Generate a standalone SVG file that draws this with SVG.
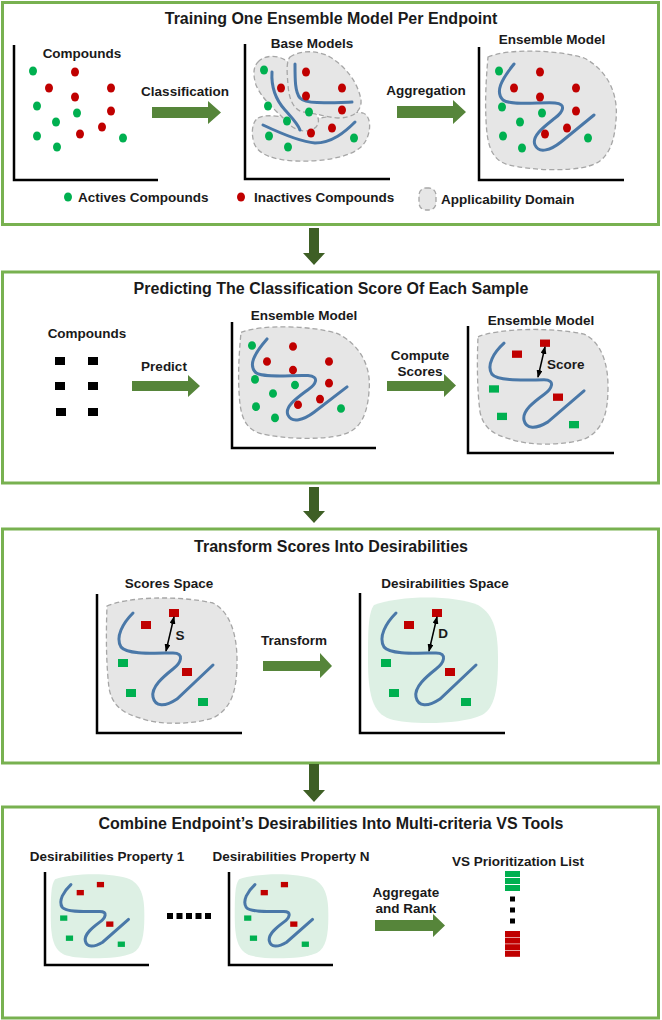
<svg xmlns="http://www.w3.org/2000/svg" width="662" height="1020" viewBox="0 0 662 1020">
<defs>
<style>
.panel{fill:#fff;stroke:#78b150;stroke-width:3}
.title{font-family:"Liberation Sans",Arial,sans-serif;font-weight:bold;font-size:16px;fill:#1a1a1a;text-anchor:middle}
.lbl{font-family:"Liberation Sans",Arial,sans-serif;font-weight:bold;font-size:13.5px;fill:#1a1a1a;text-anchor:middle}
.st{text-anchor:start}
.axis{fill:none;stroke:#000;stroke-width:2.5}
.gblob{fill:#e6e6e6;stroke:#a6a6a6;stroke-width:1.3;stroke-dasharray:5 3;vector-effect:non-scaling-stroke}
.grblob{fill:#ddf0e4}
.curve{fill:none;stroke:#4a78a8;stroke-width:3;stroke-linecap:round;vector-effect:non-scaling-stroke}
.act{fill:#00b050}
.inact{fill:#c00000}
.blk{fill:#000}
.harrow{fill:#56853a}
.varrow{fill:#3e5f25}
.meas{fill:none;stroke:#000;stroke-width:1.5;marker-start:url(#ah);marker-end:url(#ah)}
</style>
<marker id="ah" viewBox="0 0 8 6" refX="7" refY="3" markerWidth="8" markerHeight="6" markerUnits="userSpaceOnUse" orient="auto-start-reverse">
<path d="M0,0 L8,3 L0,6 Z" fill="#000"/>
</marker>
<g id="ensFig">
<path class="gblob" d="M9,-123 C30,-132 80,-130 105,-122 C125,-112 140,-90 137,-60 C135,-30 125,-18 110,-14 C90,-8 50,-10 30,-15 C10,-20 8,-40 7,-60 C6,-80 7,-100 9,-123 Z"/>
<path class="curve" d="M35,-116 C22,-100 16,-88 24,-80 C32,-74 62,-78 76,-77 C88,-76 84,-68 76,-62 C66,-54 52,-44 56,-35 C60,-26 72,-30 82,-38 L115,-65"/>
<ellipse class="act" cx="20" cy="-109" rx="4" ry="4.6"/>
<ellipse class="act" cx="23" cy="-73" rx="4" ry="4.6"/>
<ellipse class="act" cx="41" cy="-58" rx="4" ry="4.6"/>
<ellipse class="act" cx="63" cy="-67" rx="4" ry="4.6"/>
<ellipse class="act" cx="24" cy="-44" rx="4" ry="4.6"/>
<ellipse class="act" cx="43" cy="-32" rx="4" ry="4.6"/>
<ellipse class="act" cx="109" cy="-42" rx="4" ry="4.6"/>
<ellipse class="inact" cx="61" cy="-108" rx="4" ry="4.6"/>
<ellipse class="inact" cx="35" cy="-92" rx="4" ry="4.6"/>
<ellipse class="inact" cx="61" cy="-83" rx="4" ry="4.6"/>
<ellipse class="inact" cx="97" cy="-92" rx="4" ry="4.6"/>
<ellipse class="inact" cx="97" cy="-69" rx="4" ry="4.6"/>
<ellipse class="inact" cx="88" cy="-52" rx="4" ry="4.6"/>
<ellipse class="inact" cx="66" cy="-46" rx="4" ry="4.6"/>
</g>
<path id="sqBlobGray" class="gblob" d="M10,-127 C30,-136 80,-138 116,-130 C132,-122 140,-100 140,-73 C140,-45 136,-25 116,-15 C95,-8 60,-8 43,-15 C25,-20 15,-28 12,-45 C9,-70 9,-100 10,-127 Z"/>
<path id="sqBlobGreen" class="grblob" d="M14,-128 C40,-138 95,-138 118,-128 C135,-118 138,-100 138,-73 C138,-45 135,-25 122,-18 C100,-8 50,-8 30,-14 C12,-20 8,-40 8,-73 C8,-100 8,-120 14,-128 Z"/>
<g id="sqCore">
<path class="curve" d="M36,-120 C26,-110 18,-96 24,-86 C30,-78 60,-80 76,-80 C88,-80 84,-70 76,-64 C66,-56 54,-46 56,-36 C58,-26 68,-26 80,-34 L116,-68"/>
<rect class="inact" x="44" y="-112" width="10" height="8"/>
<rect class="inact" x="72" y="-124" width="10" height="8"/>
<rect class="inact" x="85" y="-65" width="10" height="8"/>
<rect class="act" x="21" y="-74" width="10" height="8"/>
<rect class="act" x="29" y="-44" width="10" height="8"/>
<rect class="act" x="101" y="-35" width="10" height="8"/>
</g>
</defs>

<rect width="662" height="1020" fill="#fff"/>

<!-- Panel 1 -->
<g id="panel1">
<rect class="panel" x="2.5" y="2.5" width="656" height="222"/>
<text class="title" x="331" y="24">Training One Ensemble Model Per Endpoint</text>
</g>
<g id="compounds1">
<path class="axis" d="M14,45 V180 H158"/>
<text class="lbl" x="82" y="58">Compounds</text>
<ellipse class="act" cx="33" cy="71" rx="4" ry="4.6"/>
<ellipse class="act" cx="37" cy="106" rx="4" ry="4.6"/>
<ellipse class="act" cx="56" cy="122" rx="4" ry="4.6"/>
<ellipse class="act" cx="37" cy="136" rx="4" ry="4.6"/>
<ellipse class="act" cx="57" cy="147" rx="4" ry="4.6"/>
<ellipse class="act" cx="77" cy="113" rx="4" ry="4.6"/>
<ellipse class="act" cx="123" cy="138" rx="4" ry="4.6"/>
<ellipse class="inact" cx="75" cy="72" rx="4" ry="4.6"/>
<ellipse class="inact" cx="49" cy="88" rx="4" ry="4.6"/>
<ellipse class="inact" cx="75" cy="97" rx="4" ry="4.6"/>
<ellipse class="inact" cx="111" cy="88" rx="4" ry="4.6"/>
<ellipse class="inact" cx="111" cy="111" rx="4" ry="4.6"/>
<ellipse class="inact" cx="102" cy="127" rx="4" ry="4.6"/>
<ellipse class="inact" cx="80" cy="134" rx="4" ry="4.6"/>
</g>
<g id="baseModels">
<path class="axis" d="M245,44 V179 H390"/>
<text class="lbl" x="312" y="48">Base Models</text>
<path class="gblob" d="M258,118 C270,112 290,120 310,119 C330,118 350,110 363,113 C372,116 372,135 362,146 C350,158 320,162 295,161 C275,160 258,155 254,143 C251,133 252,122 258,118 Z"/>
<path class="gblob" d="M258,62 C265,54 280,55 288,62 C296,72 300,92 308,103 C316,112 322,120 316,127 C310,133 298,132 290,125 C278,112 262,100 256,85 C253,75 253,67 258,62 Z"/>
<path class="gblob" d="M290,57 C300,50 318,50 330,57 C345,66 358,82 361,100 C362,112 352,118 338,118 C325,117 315,113 303,112 C294,110 289,100 288,85 C287,72 286,62 290,57 Z"/>
<path class="curve" d="M272,72 C271,88 276,100 285,110 C292,118 298,124 300,130"/>
<path class="curve" d="M295,64 C295,80 295,92 300,98 C306,104 325,103 352,102"/>
<path class="curve" d="M263,125 C280,133 300,142 315,143 C332,143 345,132 355,122"/>
<ellipse class="act" cx="264" cy="70" rx="4" ry="4.6"/>
<ellipse class="act" cx="268" cy="106" rx="4" ry="4.6"/>
<ellipse class="act" cx="287" cy="121" rx="4" ry="4.6"/>
<ellipse class="act" cx="309" cy="112" rx="4" ry="4.6"/>
<ellipse class="act" cx="269" cy="136" rx="4" ry="4.6"/>
<ellipse class="act" cx="288" cy="147" rx="4" ry="4.6"/>
<ellipse class="act" cx="354" cy="138" rx="4" ry="4.6"/>
<ellipse class="inact" cx="281" cy="88" rx="4" ry="4.6"/>
<ellipse class="inact" cx="306" cy="72" rx="4" ry="4.6"/>
<ellipse class="inact" cx="306" cy="96" rx="4" ry="4.6"/>
<ellipse class="inact" cx="342" cy="88" rx="4" ry="4.6"/>
<ellipse class="inact" cx="342" cy="110" rx="4" ry="4.6"/>
<ellipse class="inact" cx="332" cy="128" rx="4" ry="4.6"/>
<ellipse class="inact" cx="311" cy="133" rx="4" ry="4.6"/>
</g>
<g id="ensemble1">
<path class="axis" d="M479,47 V180 H624"/>
<text class="lbl" x="552" y="44">Ensemble Model</text>
<use href="#ensFig" transform="translate(479,180)"/>
</g>
<g id="legend">
<ellipse class="act" cx="68" cy="197" rx="4" ry="4.6"/>
<text class="lbl st" x="78" y="202">Actives Compounds</text>
<ellipse class="inact" cx="241" cy="197" rx="4" ry="4.6"/>
<text class="lbl st" x="254" y="202">Inactives Compounds</text>
<rect class="gblob" x="419" y="188" width="17" height="22" rx="7"/>
<text class="lbl st" x="441" y="204">Applicability Domain</text>
</g>

<!-- Panel 2 -->
<g id="panel2">
<rect class="panel" x="2.5" y="272" width="656" height="211"/>
<text class="title" x="331" y="294">Predicting The Classification Score Of Each Sample</text>
</g>
<g id="compounds2">
<text class="lbl" x="87" y="338">Compounds</text>
<rect class="blk" x="55" y="357" width="10" height="8"/>
<rect class="blk" x="88" y="357" width="10" height="8"/>
<rect class="blk" x="55" y="382" width="10" height="8"/>
<rect class="blk" x="88" y="382" width="10" height="8"/>
<rect class="blk" x="56" y="408" width="10" height="8"/>
<rect class="blk" x="88" y="408" width="10" height="8"/>
</g>
<g id="ensemble2">
<path class="axis" d="M232,322 V448 H376"/>
<text class="lbl" x="304" y="320">Ensemble Model</text>
<use href="#ensFig" transform="translate(232,448) scale(1,0.94)"/>
</g>
<g id="scored2">
<path class="axis" d="M468,326 V453 H614"/>
<text class="lbl" x="541" y="325">Ensemble Model</text>
<g transform="translate(468,453) scale(1,0.915)">
<use href="#sqBlobGray"/>
<use href="#sqCore"/>
</g>
<path class="meas" d="M538,377 L545,347"/>
<text class="lbl st" x="547" y="369">Score</text>
</g>

<!-- Panel 3 -->
<g id="panel3">
<rect class="panel" x="2.5" y="529" width="656" height="234"/>
<text class="title" x="331" y="552">Transform Scores Into Desirabilities</text>
</g>
<g id="scoresSpace">
<path class="axis" d="M97,594 V733 H242"/>
<text class="lbl" x="169" y="588">Scores Space</text>
<g transform="translate(97,733)">
<use href="#sqBlobGray"/>
<use href="#sqCore"/>
</g>
<path class="meas" d="M166,651 L174,617"/>
<text class="lbl" x="180" y="640">S</text>
</g>
<g id="desirSpace">
<path class="axis" d="M360,593 V733 H505"/>
<text class="lbl" x="445" y="588">Desirabilities Space</text>
<g transform="translate(360,733)">
<use href="#sqBlobGreen"/>
<use href="#sqCore"/>
</g>
<path class="meas" d="M429,651 L437,617"/>
<text class="lbl" x="443" y="638">D</text>
</g>

<!-- Panel 4 -->
<g id="panel4">
<rect class="panel" x="2.5" y="807" width="656" height="211"/>
<text class="title" x="331" y="829">Combine Endpoint’s Desirabilities Into Multi-criteria VS Tools</text>
</g>
<g id="prop1">
<text class="lbl" x="107" y="861">Desirabilities Property 1</text>
<g transform="translate(45,965) scale(0.72,0.67)">
<use href="#sqBlobGreen"/>
<use href="#sqCore"/>
</g>
<path class="axis" d="M45,872 V965 H149"/>
</g>
<g id="ellipsis">
<rect class="blk" x="167" y="913" width="6" height="6"/>
<rect class="blk" x="176.5" y="913" width="6" height="6"/>
<rect class="blk" x="186" y="913" width="6" height="6"/>
<rect class="blk" x="195.5" y="913" width="6" height="6"/>
<rect class="blk" x="205" y="913" width="6" height="6"/>
</g>
<g id="propN">
<text class="lbl" x="291" y="861">Desirabilities Property N</text>
<g transform="translate(229,965) scale(0.72,0.67)">
<use href="#sqBlobGreen"/>
<use href="#sqCore"/>
</g>
<path class="axis" d="M229,872 V965 H333"/>
</g>
<g id="vsList">
<text class="lbl" x="518" y="866">VS Prioritization List</text>
<rect class="act" x="505" y="871" width="15" height="6"/>
<rect class="act" x="505" y="878" width="15" height="6"/>
<rect class="act" x="505" y="885" width="15" height="6"/>
<rect class="blk" x="510" y="896.5" width="5" height="5"/>
<rect class="blk" x="510" y="907.5" width="5" height="5"/>
<rect class="blk" x="510" y="918.5" width="5" height="5"/>
<rect class="inact" x="505" y="931" width="15" height="6"/>
<rect class="inact" x="505" y="937.6" width="15" height="6"/>
<rect class="inact" x="505" y="944.2" width="15" height="6"/>
<rect class="inact" x="505" y="950.8" width="15" height="6"/>
</g>

<!-- Connectors -->
<g id="connectors">
<polygon class="harrow" points="152,107 208,107 208,101 221,112.5 208,124 208,118 152,118"/>
<text class="lbl" x="185" y="96">Classification</text>
<polygon class="harrow" points="397,106 453,106 453,100 466,112 453,124 453,118 397,118"/>
<text class="lbl" x="426" y="95">Aggregation</text>
<polygon class="harrow" points="132,381 188,381 188,375 200,386 188,397 188,391 132,391"/>
<text class="lbl" x="164" y="371">Predict</text>
<polygon class="harrow" points="387,381 444,381 444,374 456,385.5 444,397 444,391 387,391"/>
<text class="lbl" x="420" y="360">Compute</text>
<text class="lbl" x="420" y="376">Scores</text>
<polygon class="harrow" points="263,661 320,661 320,653 332,666 320,678 320,671 263,671"/>
<text class="lbl" x="294" y="645">Transform</text>
<polygon class="harrow" points="375,920 433,920 433,914 445,925.5 433,937 433,931 375,931"/>
<text class="lbl" x="406" y="897">Aggregate</text>
<text class="lbl" x="406" y="913">and Rank</text>
<polygon class="varrow" points="309,228 319,228 319,253 325,253 314,265 303,253 309,253"/>
<polygon class="varrow" points="309,487 319,487 319,511 325,511 314,523 303,511 309,511"/>
<polygon class="varrow" points="309,764 319,764 319,790 325,790 314,802 303,790 309,790"/>
</g>
</svg>
